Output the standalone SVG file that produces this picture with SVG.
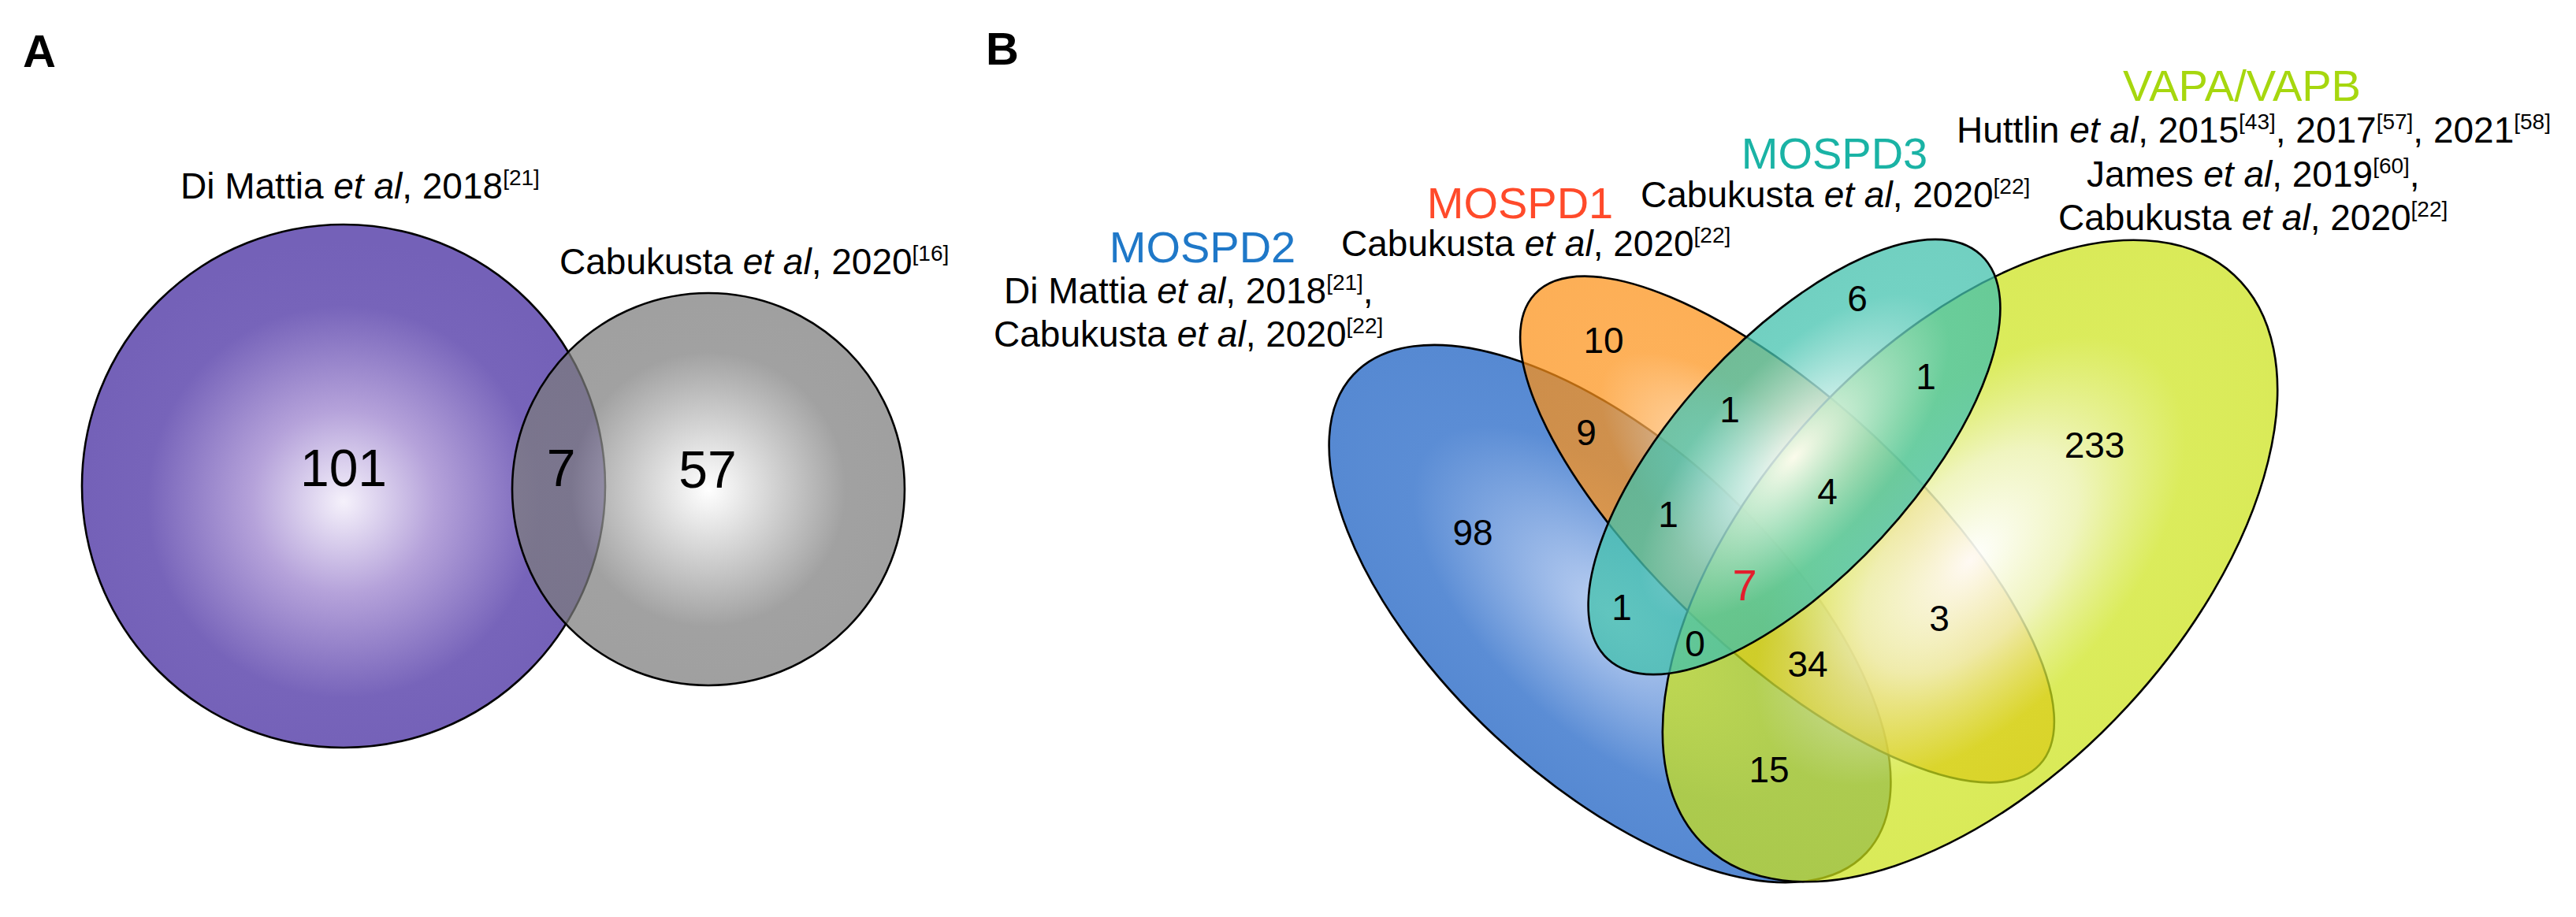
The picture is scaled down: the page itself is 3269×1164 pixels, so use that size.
<svg xmlns="http://www.w3.org/2000/svg" width="3269" height="1164" viewBox="0 0 3269 1164">
<style>
text { font-family: "Liberation Sans", Arial, Helvetica, sans-serif; fill: #000; }
.panel { font-size: 58px; font-weight: bold; }
.lbl { font-size: 46px; }
.sup { font-size: 28px; }
.it { font-style: italic; }
.numA { font-size: 66px; text-anchor: middle; }
.numB { font-size: 46px; text-anchor: middle; }
.set { font-size: 56px; text-anchor: middle; }
.edge { stroke: #000; stroke-width: 2.6; }
</style>
<defs>
<radialGradient id="gPurple" cx="0.5" cy="0.53" r="0.5">
<stop offset="0" stop-color="#f5f1fb"/>
<stop offset="0.35" stop-color="#b5a2da"/>
<stop offset="0.75" stop-color="#7764ba"/>
<stop offset="1" stop-color="#7461b8"/>
</radialGradient>
<radialGradient id="gGray" cx="0.5" cy="0.5" r="0.5">
<stop offset="0" stop-color="#ffffff"/>
<stop offset="0.7" stop-color="#7d7d7d"/>
<stop offset="1" stop-color="#7b7b7b"/>
</radialGradient>
<radialGradient id="gBlue" cx="0.5" cy="0.5" r="0.5">
<stop offset="0" stop-color="#bcd0f2"/>
<stop offset="0.7" stop-color="#5b8dd5"/>
<stop offset="1" stop-color="#5689d2"/>
</radialGradient>
<radialGradient id="gOrange" cx="0.5" cy="0.5" r="0.5">
<stop offset="0" stop-color="#ffffff" stop-opacity="0.8"/>
<stop offset="0.7" stop-color="#fd9218" stop-opacity="0.72"/>
<stop offset="1" stop-color="#fc9015" stop-opacity="0.72"/>
</radialGradient>
<radialGradient id="gYellow" cx="0.5" cy="0.5" r="0.5">
<stop offset="0" stop-color="#ffffff" stop-opacity="0.93"/>
<stop offset="0.35" stop-color="#edf3b4" stop-opacity="0.85"/>
<stop offset="0.7" stop-color="#cde41c" stop-opacity="0.72"/>
<stop offset="1" stop-color="#cbe218" stop-opacity="0.72"/>
</radialGradient>
<radialGradient id="gTeal" cx="0.5" cy="0.5" r="0.5">
<stop offset="0" stop-color="#ffffff" stop-opacity="0.9"/>
<stop offset="0.75" stop-color="#44c3af" stop-opacity="0.75"/>
<stop offset="1" stop-color="#42c0ac" stop-opacity="0.75"/>
</radialGradient>
</defs>

<rect width="3269" height="1164" fill="#ffffff"/>

<!-- Panel A -->
<text class="panel" x="29" y="85">A</text>
<g id="setA1">
<circle class="edge" cx="436" cy="617" r="332" fill="url(#gPurple)" stroke-width="2"/>
<text class="lbl" x="229" y="252">Di Mattia <tspan class="it">et al</tspan>, 2018<tspan class="sup" dy="-17">[21]</tspan></text>
</g>
<g id="setA2">
<circle class="edge" cx="899" cy="621" r="249" fill="url(#gGray)" fill-opacity="0.72" stroke-width="2"/>
<text class="lbl" x="710" y="348">Cabukusta <tspan class="it">et al</tspan>, 2020<tspan class="sup" dy="-17">[16]</tspan></text>
</g>
<g id="countsA">
<text class="numA" x="436" y="617">101</text>
<text class="numA" x="712" y="617">7</text>
<text class="numA" x="898" y="619">57</text>
</g>

<!-- Panel B -->
<text class="panel" x="1251" y="82">B</text>
<g id="MOSPD2">
<ellipse class="edge" cx="0" cy="0" rx="445" ry="213" transform="translate(2043 779) rotate(43)" fill="url(#gBlue)"/>
<text class="set" x="1526" y="333" style="fill:#1f78c8">MOSPD2</text>
<text class="lbl" x="1274" y="385">Di Mattia <tspan class="it">et al</tspan>, 2018<tspan class="sup" dy="-17">[21]</tspan><tspan dy="17">,</tspan></text>
<text class="lbl" x="1261" y="440">Cabukusta <tspan class="it">et al</tspan>, 2020<tspan class="sup" dy="-17">[22]</tspan></text>
</g>
<g id="MOSPD1">
<ellipse class="edge" cx="0" cy="0" rx="438" ry="162" transform="translate(2268 672) rotate(43)" fill="url(#gOrange)"/>
<text class="set" x="1929" y="277" style="fill:#ff4a2a">MOSPD1</text>
<text class="lbl" x="1702" y="325">Cabukusta <tspan class="it">et al</tspan>, 2020<tspan class="sup" dy="-17">[22]</tspan></text>
</g>
<g id="VAPA_VAPB">
<ellipse class="edge" cx="0" cy="0" rx="494" ry="272" transform="translate(2500 712) rotate(-47.3)" fill="url(#gYellow)"/>
<text class="set" x="2845" y="128" style="fill:#a6d70e">VAPA/VAPB</text>
<text class="lbl" x="2483" y="181">Huttlin <tspan class="it">et al</tspan>, 2015<tspan class="sup" dy="-17">[43]</tspan><tspan dy="17">, 2017</tspan><tspan class="sup" dy="-17">[57]</tspan><tspan dy="17">, 2021</tspan><tspan class="sup" dy="-17">[58]</tspan></text>
<text class="lbl" x="2648" y="237">James <tspan class="it">et al</tspan>, 2019<tspan class="sup" dy="-17">[60]</tspan><tspan dy="17">,</tspan></text>
<text class="lbl" x="2612" y="292">Cabukusta <tspan class="it">et al</tspan>, 2020<tspan class="sup" dy="-17">[22]</tspan></text>
</g>
<g id="MOSPD3">
<ellipse class="edge" cx="0" cy="0" rx="349" ry="151" transform="translate(2277 580) rotate(-47.3)" fill="url(#gTeal)"/>
<text class="set" x="2328" y="214" style="fill:#1ab3a5">MOSPD3</text>
<text class="lbl" x="2082" y="263">Cabukusta <tspan class="it">et al</tspan>, 2020<tspan class="sup" dy="-17">[22]</tspan></text>
</g>
<g id="countsB">
<text class="numB" x="2035" y="448">10</text>
<text class="numB" x="2357" y="395">6</text>
<text class="numB" x="2195" y="536">1</text>
<text class="numB" x="2444" y="494">1</text>
<text class="numB" x="2013" y="565">9</text>
<text class="numB" x="2658" y="581">233</text>
<text class="numB" x="2319" y="640">4</text>
<text class="numB" x="1869" y="692">98</text>
<text class="numB" x="2117" y="669">1</text>
<text class="numB" x="2214" y="762" style="font-size:56px;fill:#e31e2d">7</text>
<text class="numB" x="2058" y="787">1</text>
<text class="numB" x="2461" y="801">3</text>
<text class="numB" x="2151" y="833">0</text>
<text class="numB" x="2294" y="859">34</text>
<text class="numB" x="2245" y="993">15</text>
</g>
</svg>
